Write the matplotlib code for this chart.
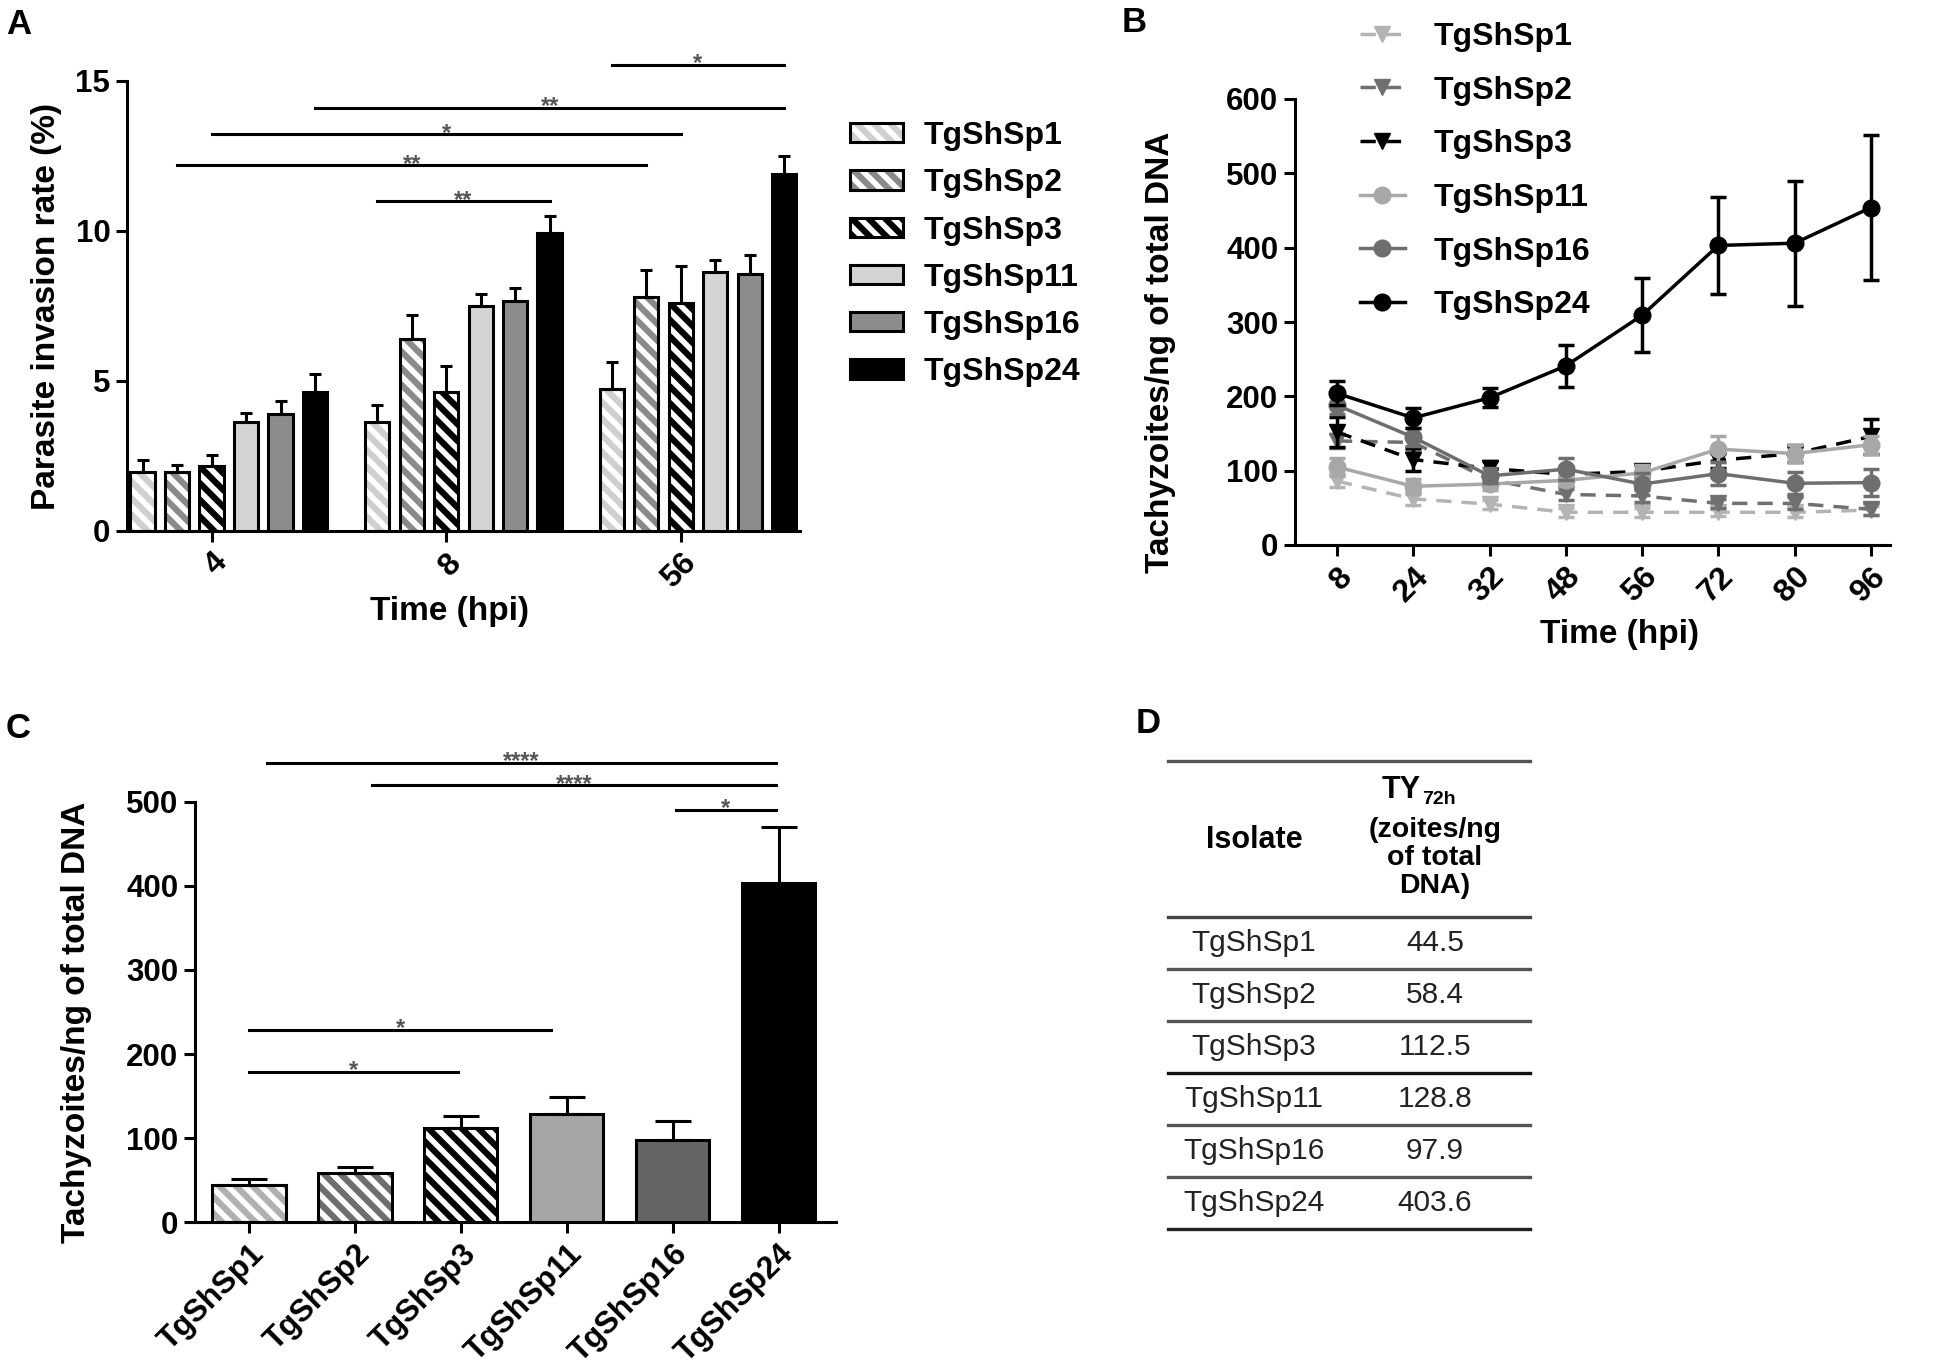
import matplotlib
matplotlib.use('Agg')
import matplotlib.pyplot as plt
import numpy as np
from matplotlib.lines import Line2D
from matplotlib.patches import Patch

plt.rcParams['font.family'] = ['Liberation Sans', 'DejaVu Sans']
plt.rcParams['font.weight'] = 'bold'
plt.rcParams['hatch.linewidth'] = 4.5
plt.rcParams['axes.linewidth'] = 2.2

W, H = 1959, 1370

# ---------------- data ----------------
isolates = ['TgShSp1', 'TgShSp2', 'TgShSp3', 'TgShSp11', 'TgShSp16', 'TgShSp24']

# Panel A: invasion rate (%) at 4, 8, 56 hpi
inv_time_labels = ['4', '8', '56']
inv_mean = [
    [1.98, 3.64, 4.73],   # TgShSp1
    [1.98, 6.40, 7.80],   # TgShSp2
    [2.17, 4.64, 7.60],   # TgShSp3
    [3.64, 7.49, 8.62],   # TgShSp11
    [3.91, 7.66, 8.55],   # TgShSp16
    [4.64, 9.94, 11.89],  # TgShSp24
]
inv_sd = [
    [0.37, 0.55, 0.89],
    [0.22, 0.80, 0.91],
    [0.35, 0.87, 1.22],
    [0.30, 0.42, 0.43],
    [0.41, 0.45, 0.64],
    [0.60, 0.55, 0.61],
]
# comparisons: (group1, bar1, group2, bar2, height, label)
inv_sig = [
    (2, 0, 2, 5, 15.55, '*'),
    (0, 5, 2, 5, 14.11, '**'),
    (0, 2, 2, 2, 13.23, '*'),
    (0, 1, 2, 1, 12.20, '**'),
    (1, 0, 1, 5, 11.00, '**'),
]

# Panel B: tachyzoites/ng of total DNA over time
kin_time_labels = ['8', '24', '32', '48', '56', '72', '80', '96']
kin_mean = [
    [86, 62, 55, 44, 44, 44, 44, 47],          # TgShSp1
    [140, 138, 88, 68, 66, 56, 56, 48],        # TgShSp2
    [152, 115, 103, 95, 99, 114, 123, 146],    # TgShSp3
    [105, 79, 82, 87, 97, 129, 123, 135],      # TgShSp11
    [188, 145, 93, 102, 82, 96, 83, 84],       # TgShSp16
    [204, 171, 198, 241, 309, 403, 406, 454],  # TgShSp24
]
kin_sd = [
    [8, 8, 6, 6, 6, 5, 6, 6],
    [10, 10, 8, 8, 8, 6, 8, 8],
    [20, 15, 10, 8, 8, 10, 12, 24],
    [12, 10, 8, 8, 10, 18, 12, 12],
    [12, 12, 10, 15, 15, 15, 15, 18],
    [16, 13, 13, 28, 50, 65, 84, 97],
]

# Panel C / D: yield at 72 h
ty72_mean = [44.5, 58.4, 112.5, 128.8, 97.9, 403.6]
ty72_sd = [6.5, 6.6, 14, 20, 22, 67]
# comparisons: (start position, end position, height, label)
ty72_sig = [
    (0.17, 4.97, 547, '****'),
    (1.16, 4.97, 520, '****'),
    (4.03, 4.97, 491, '*'),
    (0.0, 2.85, 229, '*'),
    (0.0, 1.97, 179, '*'),
]
table_values = ['44.5', '58.4', '112.5', '128.8', '97.9', '403.6']

# ---------------- helpers ----------------
fig = plt.figure(figsize=(W / 100, H / 100), dpi=100)


def fx(x):
    return x / W


def fy(y):
    return 1 - y / H


def px_axes(l, t, r, b):
    return fig.add_axes([l / W, 1 - b / H, (r - l) / W, (b - t) / H])


def style_axes(ax, size=22):
    for s in ['top', 'right']:
        ax.spines[s].set_visible(False)
    for s in ['left', 'bottom']:
        ax.spines[s].set_linewidth(2.2)
    ax.tick_params(direction='out', length=8, width=2.2, labelsize=size, pad=4)
    ax.set_facecolor('none')


def draw_bars(ax, xs, vals, sds, style, width, capsize):
    kind, col = style
    if kind == 'hatch':
        ax.bar(xs, vals, width, color='white', edgecolor=col, hatch='\\\\',
               linewidth=0, zorder=2)
        ax.bar(xs, vals, width, fill=False, edgecolor='black', linewidth=2.2, zorder=3)
    else:
        ax.bar(xs, vals, width, color=col, edgecolor='black', linewidth=2.2, zorder=3)
    ax.errorbar(xs, vals, yerr=[np.zeros(len(vals)), sds], fmt='none', ecolor='black',
                elinewidth=2.2, capsize=capsize, capthick=2.2, zorder=4)


def legend_handle(style):
    kind, col = style
    if kind == 'hatch':
        return (Patch(facecolor='white', edgecolor=col, hatch='\\\\', linewidth=0),
                Patch(fill=False, edgecolor='black', linewidth=2.2))
    return Patch(facecolor=col, edgecolor='black', linewidth=2.2)


def sig_line(ax, x1, x2, y, label):
    ax.plot([x1, x2], [y, y], color='black', lw=2.2, clip_on=False, zorder=5)
    ax.annotate(label, xy=((x1 + x2) / 2, y), xytext=(0, -4), textcoords='offset points',
                ha='center', va='baseline', fontsize=17, color='#555555',
                annotation_clip=False)


# ---------------- Panel A ----------------
axA = px_axes(127, 81, 800, 531)
style_axes(axA, 22.5)
group_pitch = 6.8
bwA = 0.7
stylesA = [('hatch', '#cfcfcf'), ('hatch', '#8a8a8a'), ('hatch', 'black'),
           ('solid', '#d4d4d4'), ('solid', '#8c8c8c'), ('solid', 'black')]
groups = np.arange(len(inv_time_labels)) * group_pitch
for i in range(len(isolates)):
    draw_bars(axA, groups + i, inv_mean[i], inv_sd[i], stylesA[i], bwA, 4.5)
axA.set_ylim(0, 15)
axA.set_xlim(-0.45, 19.06)
axA.set_yticks([0, 5, 10, 15])
axA.set_xticks(groups + 2)
axA.set_xticklabels(inv_time_labels, rotation=45, ha='right', va='top',
                    rotation_mode='anchor', fontsize=23)
for g1, b1, g2, b2, yv, lab in inv_sig:
    sig_line(axA, groups[g1] + b1, groups[g2] + b2, yv, lab)
fig.text(fx(449), fy(612), 'Time (hpi)', ha='center', va='center', fontsize=24)
fig.text(fx(47), fy(307), 'Parasite invasion rate (%)', ha='center', va='center',
         rotation=90, fontsize=24)
fig.legend([legend_handle(s) for s in stylesA], isolates, loc='upper left',
           bbox_to_anchor=(fx(850), fy(121)), frameon=False, fontsize=23,
           handlelength=1.65, handleheight=0.55, handletextpad=0.66, labelspacing=0.54,
           borderpad=0, borderaxespad=0)

# ---------------- Panel B ----------------
axB = px_axes(1295, 99, 1890, 545)
style_axes(axB, 22.5)
xk = np.arange(len(kin_time_labels))
dash = (0, (4.4, 2.9))
stylesB = [('#b4b4b4', dash, 'v'), ('#707070', dash, 'v'), ('black', dash, 'v'),
           ('#a8a8a8', '-', 'o'), ('#6e6e6e', '-', 'o'), ('black', '-', 'o')]
for i in range(len(isolates)):
    c, ls, m = stylesB[i]
    axB.errorbar(xk, kin_mean[i], yerr=kin_sd[i], color=c, ls=ls, marker=m, ms=12,
                 lw=2.5, elinewidth=2.5, capsize=6, capthick=2.5, zorder=3 + i)
axB.set_xlim(-0.55, 7.25)
axB.set_ylim(0, 600)
axB.set_yticks(np.arange(0, 601, 100))
axB.set_xticks(xk)
axB.set_xticklabels(kin_time_labels, rotation=45, ha='right', va='top',
                    rotation_mode='anchor', fontsize=23)
fig.text(fx(1620), fy(635), 'Time (hpi)', ha='center', va='center', fontsize=24)
fig.text(fx(1160), fy(352), 'Tachyzoites/ng of total DNA', ha='center', va='center',
         rotation=90, fontsize=24)
handlesB = [Line2D([0], [0], color=c, ls=ls, marker=m, ms=12, lw=2.5)
            for c, ls, m in stylesB]
fig.legend(handlesB, isolates, loc='upper left', bbox_to_anchor=(fx(1360), fy(22)),
           frameon=False, fontsize=23, handlelength=1.4, handletextpad=0.9,
           labelspacing=0.74, borderpad=0, borderaxespad=0)

# ---------------- Panel C ----------------
axC = px_axes(195, 802, 836, 1222)
style_axes(axC, 22.5)
xc = np.arange(len(isolates))
stylesC = [('hatch', '#b0b0b0'), ('hatch', '#6e6e6e'), ('hatch', 'black'),
           ('solid', '#a6a6a6'), ('solid', '#656565'), ('solid', 'black')]
for i in range(len(isolates)):
    draw_bars(axC, xc[i:i + 1], ty72_mean[i:i + 1], ty72_sd[i:i + 1], stylesC[i], 0.69, 13)
axC.set_xlim(-0.51, 5.54)
axC.set_ylim(0, 500)
axC.set_yticks(np.arange(0, 501, 100))
axC.set_xticks(xc)
axC.set_xticklabels(isolates, rotation=45, ha='right', va='top', rotation_mode='anchor',
                    fontsize=22.5)
for x1, x2, yv, lab in ty72_sig:
    sig_line(axC, x1, x2, yv, lab)
fig.text(fx(77), fy(1022), 'Tachyzoites/ng of total DNA', ha='center', va='center',
         rotation=90, fontsize=24)

# ---------------- Panel D (table) ----------------
tl, tr = 1168, 1530
line_ys = [761, 917, 969, 1021, 1073, 1125, 1177, 1229]
line_cols = ['#555555', '#444444', '#555555', '#555555', '#111111', '#555555', '#555555',
             '#222222']
for yv, c in zip(line_ys, line_cols):
    fig.add_artist(Line2D([fx(tl), fx(tr)], [fy(yv), fy(yv)], color=c, lw=2.4))
col1, col2 = 1254, 1435
fig.text(fx(col1), fy(840), 'Isolate', ha='center', va='center', fontsize=22)
fig.text(fx(1421), fy(790), 'TY', ha='right', va='center', fontsize=22)
fig.text(fx(1422), fy(800), '72h', ha='left', va='center', fontsize=14)
fig.text(fx(col2), fy(858), '(zoites/ng\nof total\nDNA)', ha='center', va='center',
         fontsize=20.5, linespacing=1.12)
for k, (name, val) in enumerate(zip(isolates, table_values)):
    yc = (line_ys[k + 1] + line_ys[k + 2]) / 2
    fig.text(fx(col1), fy(yc), name, ha='center', va='center', fontsize=21.5,
             fontweight='normal', color='#222222')
    fig.text(fx(col2), fy(yc), val, ha='center', va='center', fontsize=21.5,
             fontweight='normal', color='#222222')

# ---------------- panel letters ----------------
for lab, x, y in [('A', 6, 8), ('B', 1122, 6), ('C', 6, 712), ('D', 1136, 707)]:
    fig.text(fx(x), fy(y), lab, ha='left', va='top', fontsize=25)

fig.savefig('out.png', dpi=100, facecolor='white')
